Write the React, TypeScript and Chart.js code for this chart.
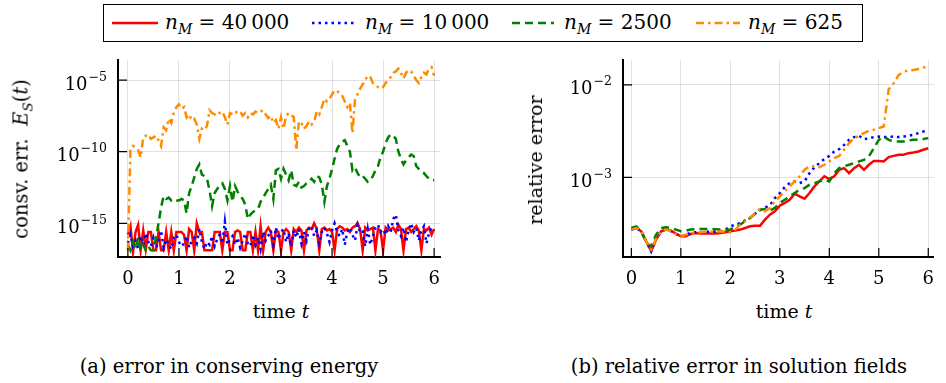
import React, { useEffect, useRef } from 'react';
import { Chart, registerables } from 'chart.js';
Chart.register(...registerables);

const FONT = "'DejaVu Serif', serif";
const GRID = 'rgba(0,0,0,0.12)';

// ---------- data ----------
const tLeft = [
  0, 0.05, 0.1, 0.15, 0.2, 0.25, 0.3, 0.35, 0.4, 0.45,
  0.5, 0.55, 0.6, 0.65, 0.7, 0.75, 0.8, 0.85, 0.9, 0.95,
  1, 1.05, 1.1, 1.15, 1.2, 1.25, 1.3, 1.35, 1.4, 1.45,
  1.5, 1.55, 1.6, 1.65, 1.7, 1.75, 1.8, 1.85, 1.9, 1.95,
  2, 2.05, 2.1, 2.15, 2.2, 2.25, 2.3, 2.35, 2.4, 2.45,
  2.5, 2.55, 2.6, 2.65, 2.7, 2.75, 2.8, 2.85, 2.9, 2.95,
  3, 3.05, 3.1, 3.15, 3.2, 3.25, 3.3, 3.35, 3.4, 3.45,
  3.5, 3.55, 3.6, 3.65, 3.7, 3.75, 3.8, 3.85, 3.9, 3.95,
  4, 4.05, 4.1, 4.15, 4.2, 4.25, 4.3, 4.35, 4.4, 4.45,
  4.5, 4.55, 4.6, 4.65, 4.7, 4.75, 4.8, 4.85, 4.9, 4.95,
  5, 5.05, 5.1, 5.15, 5.2, 5.25, 5.3, 5.35, 5.4, 5.45,
  5.5, 5.55, 5.6, 5.65, 5.7, 5.75, 5.8, 5.85, 5.9, 5.95,
  6,
];

const energyM40000 = [
  1.6e-16, 6.3e-16, 1.0e-17, 2.5e-16, 7.9e-16, 1.3e-17, 3.2e-16, 1.6e-17, 2.5e-16, 2.5e-16,
  1.3e-17, 1.3e-17, 2.5e-16, 1.3e-17, 1.3e-17, 2.5e-16, 1.3e-17, 2.5e-16, 1.3e-17, 2.5e-16,
  2.5e-16, 2.5e-16, 1.6e-16, 1.3e-17, 4.0e-16, 2.5e-16, 1.3e-17, 1.0e-15, 2.5e-16, 2.5e-16,
  1.3e-17, 1.3e-17, 1.3e-17, 1.3e-17, 2.5e-16, 2.5e-16, 2.5e-16, 1.3e-17, 2.5e-16, 2.5e-16,
  1.3e-17, 1.3e-17, 2.5e-16, 3.2e-16, 2.5e-16, 1.3e-17, 1.3e-17, 2.5e-16, 2.5e-16, 1.3e-17,
  2.5e-16, 1.3e-17, 6.3e-16, 1.3e-17, 2.5e-16, 5.0e-16, 2.5e-16, 1.3e-17, 3.2e-16, 2.5e-16,
  1.3e-17, 2.5e-16, 4.0e-16, 2.5e-16, 1.3e-17, 4.0e-16, 2.5e-16, 5.0e-16, 3.2e-16, 1.3e-17,
  3.2e-16, 5.0e-16, 4.0e-16, 1.0e-15, 4.0e-16, 1.3e-17, 4.0e-16, 5.0e-16, 3.2e-16, 4.0e-16,
  2.5e-16, 1.3e-17, 4.0e-16, 6.3e-16, 5.0e-16, 3.2e-16, 4.0e-16, 2.5e-16, 5.0e-16, 6.3e-16,
  1.0e-15, 4.0e-16, 1.3e-17, 5.0e-16, 3.2e-16, 4.0e-16, 5.0e-16, 1.3e-17, 4.0e-16, 3.2e-16,
  1.3e-17, 5.0e-16, 3.2e-16, 4.0e-16, 5.0e-16, 2.5e-16, 7.9e-16, 4.0e-16, 1.3e-17, 4.0e-16,
  5.0e-16, 2.5e-16, 4.0e-16, 6.3e-16, 3.2e-16, 1.3e-17, 4.0e-16, 3.2e-16, 5.0e-16, 1.6e-16,
  4.0e-16,
];

const energyM10000 = [
  4.0e-17, 1.6e-16, 2.5e-17, 6.3e-17, 1.6e-17, 1.3e-16, 3.2e-17, 2.0e-16, 5.0e-17, 2.5e-17,
  1.0e-16, 2.0e-17, 5.0e-17, 3.2e-16, 2.0e-17, 7.9e-17, 3.2e-17, 1.6e-17, 1.0e-16, 1.6e-16,
  5.0e-17, 2.5e-17, 4.0e-17, 1.3e-16, 2.0e-17, 6.3e-17, 1.0e-16, 4.0e-17, 4.0e-16, 5.0e-17,
  1.6e-17, 5.0e-17, 3.2e-17, 1.3e-16, 2.5e-17, 7.9e-17, 1.6e-16, 4.0e-17, 1.3e-15, 3.2e-17,
  7.9e-17, 1.3e-16, 3.2e-17, 1.0e-16, 2.0e-17, 6.3e-17, 2.0e-16, 4.0e-17, 2.5e-17, 1.6e-16,
  3.2e-17, 1.0e-16, 1.6e-17, 2.5e-16, 6.3e-17, 1.3e-16, 3.2e-16, 3.2e-17, 5.0e-16, 7.9e-17,
  2.5e-16, 4.0e-16, 5.0e-17, 2.0e-16, 2.5e-17, 3.2e-16, 1.0e-16, 4.0e-16, 4.0e-17, 2.5e-16,
  6.3e-17, 5.0e-16, 6.3e-16, 1.3e-16, 3.2e-16, 4.0e-17, 2.5e-16, 5.0e-16, 2.0e-16, 5.0e-17,
  3.2e-16, 1.0e-15, 2.5e-16, 1.3e-16, 4.0e-16, 3.2e-17, 2.5e-16, 5.0e-16, 1.6e-16, 6.3e-17,
  7.9e-16, 2.5e-16, 3.2e-16, 2.5e-17, 4.0e-16, 3.2e-17, 1.3e-16, 5.0e-16, 7.9e-16, 2.5e-16,
  4.0e-16, 1.6e-16, 6.3e-16, 2.5e-16, 2.0e-15, 4.0e-15, 3.2e-16, 1.3e-16, 5.0e-16, 5.0e-17,
  3.2e-16, 1.0e-15, 2.5e-16, 5.0e-16, 6.3e-17, 3.2e-16, 6.3e-16, 4.0e-17, 2.0e-16, 5.0e-16,
  3.2e-16,
];

const energyM2500 = [
  3.2e-17, 1.3e-17, 5.0e-17, 1.6e-17, 1.0e-16, 1.3e-17, 3.2e-17, 1.3e-17, 2.5e-17, 1.3e-17,
  1.3e-17, 1.0e-16, 1.0e-15, 1.3e-14, 7.9e-14, 5.0e-14, 6.3e-14, 4.0e-14, 5.0e-14, 4.0e-14,
  4.0e-14, 5.0e-14, 4.0e-14, 5.0e-15, 1.3e-13, 4.0e-13, 1.6e-12, 6.3e-12, 1.3e-11, 2.5e-12,
  2.0e-12, 1.3e-12, 2.0e-13, 1.6e-14, 1.3e-13, 2.5e-13, 5.0e-13, 6.3e-13, 2.5e-13, 4.0e-14,
  4.0e-13, 3.2e-14, 4.0e-13, 1.6e-13, 7.9e-14, 5.0e-14, 2.0e-14, 2.0e-15, 4.0e-15, 6.3e-15,
  7.9e-15, 1.0e-14, 3.2e-14, 6.3e-14, 1.3e-13, 2.5e-13, 5.0e-13, 5.0e-14, 5.0e-12, 6.3e-12,
  1.3e-12, 6.3e-12, 2.5e-12, 1.0e-12, 5.0e-12, 5.0e-13, 4.0e-13, 7.9e-13, 3.2e-13, 4.0e-13,
  6.3e-13, 7.9e-13, 1.3e-12, 7.9e-13, 2.0e-12, 1.6e-12, 5.0e-13, 3.2e-14, 4.0e-13, 1.3e-12,
  6.3e-12, 3.2e-11, 1.6e-10, 3.2e-10, 5.0e-10, 6.3e-10, 2.5e-10, 1.0e-10, 5.0e-12, 7.9e-12,
  3.2e-12, 1.6e-12, 2.0e-12, 1.3e-12, 7.9e-13, 1.0e-12, 2.0e-12, 5.0e-12, 1.0e-11, 4.0e-11,
  1.0e-10, 4.0e-10, 1.0e-9, 1.6e-9, 1.3e-9, 7.9e-10, 1.0e-10, 3.2e-11, 1.3e-11, 2.5e-11,
  4.0e-11, 6.3e-11, 5.0e-11, 1.0e-11, 6.3e-12, 4.0e-12, 3.2e-12, 2.0e-12, 1.3e-12, 1.0e-12,
  1.0e-12,
];

const energyM625 = [
  1.3e-17, 1.3e-10, 2.5e-10, 2.0e-10, 1.3e-10, 4.0e-11, 1.0e-9, 1.3e-9, 1.6e-9, 7.9e-10,
  1.0e-9, 1.3e-9, 6.3e-10, 2.5e-10, 5.0e-9, 3.2e-9, 2.0e-8, 1.0e-8, 5.0e-8, 1.3e-7,
  2.0e-7, 1.0e-7, 1.3e-7, 2.5e-8, 4.0e-8, 1.6e-8, 2.0e-8, 7.9e-9, 7.9e-10, 4.0e-9,
  3.2e-9, 6.3e-9, 7.9e-8, 5.0e-8, 4.0e-8, 6.3e-8, 5.0e-8, 6.3e-8, 2.5e-8, 7.9e-9,
  5.0e-8, 4.0e-8, 6.3e-8, 5.0e-8, 6.3e-8, 3.2e-8, 5.0e-8, 2.5e-8, 5.0e-8, 4.0e-8,
  6.3e-8, 5.0e-8, 6.3e-8, 7.9e-8, 4.0e-8, 2.2e-8, 3.2e-8, 1.0e-8, 1.6e-8, 4.0e-9,
  2.5e-8, 4.0e-9, 3.2e-8, 5.0e-8, 4.0e-8, 2.5e-8, 1.3e-10, 1.3e-8, 1.0e-8, 4.0e-9,
  6.3e-9, 1.3e-8, 7.9e-9, 1.3e-8, 6.3e-8, 4.0e-8, 1.3e-7, 5.0e-7, 3.2e-7, 5.0e-7,
  1.0e-6, 2.0e-6, 1.6e-6, 1.3e-6, 7.9e-7, 3.2e-7, 1.3e-7, 2.5e-7, 2.0e-9, 4.0e-7,
  1.0e-6, 2.5e-6, 5.0e-6, 1.0e-5, 2.0e-5, 1.6e-5, 6.3e-6, 5.0e-6, 3.2e-6, 2.5e-6,
  3.2e-6, 6.3e-6, 1.0e-5, 1.6e-5, 3.2e-5, 4.0e-5, 6.3e-5, 3.2e-5, 1.3e-5, 3.2e-5,
  5.0e-5, 4.0e-5, 2.0e-5, 1.0e-5, 6.3e-6, 1.6e-5, 3.2e-5, 2.5e-5, 6.3e-5, 7.9e-5,
  2.0e-5,
];

const tRight = [
  0, 0.1, 0.2, 0.3, 0.4, 0.5, 0.6, 0.7, 0.8, 0.9,
  1, 1.1, 1.2, 1.3, 1.4, 1.5, 1.6, 1.7, 1.8, 1.9,
  2, 2.1, 2.2, 2.3, 2.4, 2.5, 2.6, 2.7, 2.8, 2.9,
  3, 3.1, 3.2, 3.3, 3.4, 3.5, 3.6, 3.7, 3.8, 3.9,
  4, 4.1, 4.2, 4.3, 4.4, 4.5, 4.6, 4.7, 4.8, 4.9,
  5, 5.1, 5.2, 5.3, 5.4, 5.5, 5.6, 5.7, 5.8, 5.9,
  6,
];

const relM40000 = [
  2.73e-4, 2.84e-4, 2.62e-4, 2.04e-4, 1.59e-4, 2.13e-4, 2.62e-4, 2.73e-4, 2.66e-4, 2.47e-4,
  2.31e-4, 2.31e-4, 2.45e-4, 2.51e-4, 2.47e-4, 2.47e-4, 2.47e-4, 2.47e-4, 2.51e-4, 2.55e-4,
  2.62e-4, 2.66e-4, 2.73e-4, 2.84e-4, 2.96e-4, 3.01e-4, 3.01e-4, 3.50e-4, 3.96e-4, 4.30e-4,
  4.95e-4, 5.30e-4, 5.74e-4, 6.67e-4, 6.24e-4, 5.89e-4, 6.78e-4, 8.00e-4, 9.06e-4, 1.03e-3,
  9.59e-4, 1.03e-3, 1.21e-3, 1.26e-3, 1.11e-3, 1.26e-3, 1.37e-3, 1.21e-3, 1.37e-3, 1.51e-3,
  1.51e-3, 1.49e-3, 1.66e-3, 1.71e-3, 1.76e-3, 1.76e-3, 1.83e-3, 1.86e-3, 1.91e-3, 1.99e-3,
  2.07e-3,
];

const relM10000 = [
  2.73e-4, 2.84e-4, 2.62e-4, 2.04e-4, 1.59e-4, 2.17e-4, 2.62e-4, 2.73e-4, 2.62e-4, 2.45e-4,
  2.31e-4, 2.41e-4, 2.51e-4, 2.55e-4, 2.55e-4, 2.58e-4, 2.58e-4, 2.60e-4, 2.62e-4, 2.73e-4,
  2.96e-4, 3.09e-4, 3.22e-4, 3.44e-4, 3.65e-4, 4.06e-4, 4.42e-4, 4.72e-4, 5.00e-4, 5.99e-4,
  6.78e-4, 7.87e-4, 8.69e-4, 9.06e-4, 8.69e-4, 9.06e-4, 1.11e-3, 1.29e-3, 1.43e-3, 1.58e-3,
  1.71e-3, 1.91e-3, 2.02e-3, 2.25e-3, 2.55e-3, 2.73e-3, 2.82e-3, 2.60e-3, 2.64e-3, 2.73e-3,
  2.77e-3, 2.73e-3, 2.73e-3, 2.77e-3, 2.73e-3, 2.77e-3, 2.82e-3, 2.89e-3, 3.01e-3, 3.14e-3,
  3.22e-3,
];

const relM2500 = [
  2.84e-4, 2.96e-4, 2.62e-4, 1.96e-4, 1.80e-4, 2.41e-4, 2.84e-4, 2.89e-4, 2.84e-4, 2.73e-4,
  2.62e-4, 2.66e-4, 2.73e-4, 2.77e-4, 2.77e-4, 2.77e-4, 2.77e-4, 2.75e-4, 2.73e-4, 2.70e-4,
  2.73e-4, 2.92e-4, 3.09e-4, 3.36e-4, 3.65e-4, 4.06e-4, 4.49e-4, 4.56e-4, 4.37e-4, 4.68e-4,
  5.30e-4, 5.74e-4, 6.24e-4, 6.78e-4, 7.36e-4, 7.67e-4, 8.34e-4, 8.69e-4, 9.06e-4, 9.44e-4,
  9.06e-4, 1.11e-3, 1.26e-3, 1.32e-3, 1.37e-3, 1.43e-3, 1.49e-3, 1.55e-3, 1.69e-3, 2.07e-3,
  2.55e-3, 2.77e-3, 2.55e-3, 2.45e-3, 2.45e-3, 2.45e-3, 2.51e-3, 2.55e-3, 2.55e-3, 2.60e-3,
  2.66e-3,
];

const relM625 = [
  2.73e-4, 2.84e-4, 2.62e-4, 2.04e-4, 1.66e-4, 2.16e-4, 2.62e-4, 2.73e-4, 2.62e-4, 2.45e-4,
  2.31e-4, 2.41e-4, 2.47e-4, 2.51e-4, 2.55e-4, 2.58e-4, 2.58e-4, 2.60e-4, 2.62e-4, 2.60e-4,
  2.55e-4, 2.73e-4, 3.09e-4, 3.36e-4, 3.65e-4, 4.13e-4, 4.56e-4, 4.30e-4, 4.68e-4, 5.51e-4,
  6.24e-4, 7.06e-4, 8.00e-4, 9.06e-4, 1.03e-3, 1.21e-3, 1.32e-3, 1.32e-3, 1.29e-3, 1.37e-3,
  1.49e-3, 1.62e-3, 1.71e-3, 1.99e-3, 2.35e-3, 2.66e-3, 2.82e-3, 3.01e-3, 3.19e-3, 3.27e-3,
  3.41e-3, 3.55e-3, 8.97e-3, 1.04e-2, 1.28e-2, 1.39e-2, 1.43e-2, 1.45e-2, 1.49e-2, 1.54e-2,
  1.58e-2,
];

const xTickVals = [0, 1, 2, 3, 4, 5, 6];
const leftYTicks = [1e-15, 1e-10, 1e-5];
const leftYExps = ['\u221215', '\u221210', '\u22125'];
const rightYTicks = [1e-3, 1e-2];
const rightYExps = ['\u22123', '\u22122'];

const seriesLabels = ['40\u2009000', '10\u2009000', '2500', '625'];
const seriesColors = ['#ff0000', '#0000ff', '#008000', '#ff8c00'];
const seriesDash = [[], [2.5, 4], [8, 5], [8, 4, 2.5, 4]];

// ---------- plugin: inner ticks + 10^k labels ----------
const axisDecor = {
  id: 'axisDecor',
  afterDatasetsDraw(chart: any, _args: any, opts: any) {
    const { ctx, chartArea: a, scales } = chart;
    const xs = scales.x;
    const ys = scales.y;
    ctx.save();
    ctx.strokeStyle = '#000';
    ctx.lineWidth = 1.2;
    ctx.beginPath();
    xs.ticks.forEach((t: any) => {
      const p = xs.getPixelForValue(t.value);
      ctx.moveTo(p, a.bottom);
      ctx.lineTo(p, a.bottom - 9);
    });
    ys.ticks.forEach((t: any) => {
      const p = ys.getPixelForValue(t.value);
      ctx.moveTo(a.left, p);
      ctx.lineTo(a.left + 9, p);
    });
    ctx.stroke();
    ctx.fillStyle = '#000';
    ctx.textAlign = 'left';
    ctx.textBaseline = 'alphabetic';
    const exps: string[] = opts.exps || [];
    ys.ticks.forEach((t: any, i: number) => {
      const py = ys.getPixelForValue(t.value);
      ctx.font = `18px ${FONT}`;
      const wb = ctx.measureText('10').width;
      ctx.font = `12.5px ${FONT}`;
      const we = ctx.measureText(exps[i] || '').width;
      const right = a.left - opts.gap;
      ctx.font = `18px ${FONT}`;
      ctx.fillText('10', right - we - wb - 1, py + 9.5);
      ctx.font = `12.5px ${FONT}`;
      ctx.fillText(exps[i] || '', right - we, py + 0.5);
    });
    ctx.restore();
  },
};

function makeConfig(
  t: number[],
  values: number[][],
  xMin: number,
  xMax: number,
  yMin: number,
  yMax: number,
  yTicks: number[],
  yExps: string[],
  yWidth: number,
  padRight: number
): any {
  return {
    type: 'line',
    data: {
      datasets: values.map((vals, k) => ({
        label: seriesLabels[k],
        data: t.map((x, i) => ({ x, y: vals[i] })),
        borderColor: seriesColors[k],
        borderWidth: 2.5,
        borderDash: seriesDash[k],
        pointRadius: 0,
        tension: 0,
        fill: false,
        order: 4 - k,
      })),
    },
    options: {
      responsive: false,
      animation: false,
      devicePixelRatio: 1,
      layout: { padding: { top: 10, right: padRight, left: 0, bottom: 0 }, autoPadding: false },
      plugins: {
        legend: { display: false },
        tooltip: { enabled: false },
        axisDecor: { exps: yExps, gap: 11 },
      },
      scales: {
        x: {
          type: 'linear',
          min: xMin,
          max: xMax,
          afterBuildTicks: (s: any) => {
            s.ticks = xTickVals.map((v) => ({ value: v }));
          },
          afterFit: (s: any) => {
            s.height = 33;
          },
          grid: { color: GRID, lineWidth: 1, drawTicks: false },
          border: { display: true, color: '#000', width: 2 },
          ticks: {
            font: { family: FONT, size: 18 },
            color: '#000',
            padding: 12,
            maxRotation: 0,
            autoSkip: false,
            callback: (v: any) => String(v),
          },
        },
        y: {
          type: 'logarithmic',
          min: yMin,
          max: yMax,
          afterBuildTicks: (s: any) => {
            s.ticks = yTicks.map((v) => ({ value: v }));
          },
          afterFit: (s: any) => {
            s.width = yWidth;
          },
          grid: { color: GRID, lineWidth: 1, drawTicks: false },
          border: { display: true, color: '#000', width: 2 },
          ticks: { display: false },
        },
      },
    },
    plugins: [axisDecor],
  };
}

function ChartCanvas(props: { left: number; top: number; width: number; height: number; config: () => any }) {
  const ref = useRef<HTMLCanvasElement>(null);
  useEffect(() => {
    const chart = new Chart(ref.current as HTMLCanvasElement, props.config());
    return () => chart.destroy();
  }, []);
  return (
    <canvas
      ref={ref}
      width={props.width}
      height={props.height}
      style={{ position: 'absolute', left: props.left, top: props.top, width: props.width, height: props.height }}
    />
  );
}

const sub: React.CSSProperties = { fontSize: '0.7em', fontStyle: 'italic', position: 'relative', top: '0.35em' };

function LegendItem(props: { k: number; lineX: number; lineW: number; textX: number }) {
  const { k, lineX, lineW, textX } = props;
  return (
    <>
      <svg style={{ position: 'absolute', left: lineX, top: 13, overflow: 'visible' }} width={lineW} height={20}>
        <line
          x1={0}
          y1={10}
          x2={lineW}
          y2={10}
          stroke={seriesColors[k]}
          strokeWidth={2.5}
          strokeDasharray={seriesDash[k].length ? seriesDash[k].join(' ') : undefined}
        />
      </svg>
      <div style={{ position: 'absolute', left: textX, top: 9, fontSize: 20, lineHeight: '26px', whiteSpace: 'nowrap' }}>
        <i>n</i>
        <span style={sub}>M</span> = {seriesLabels[k]}
      </div>
    </>
  );
}

export default function App() {
  return (
    <div
      style={{
        position: 'absolute',
        left: 0,
        top: 0,
        width: 946,
        height: 383,
        background: '#fff',
        fontFamily: FONT,
        color: '#000',
        overflow: 'hidden',
      }}
    >
      {/* legend */}
      <div
        style={{
          position: 'absolute',
          left: 103,
          top: 4,
          width: 760,
          height: 38,
          border: '1.5px solid #000',
          boxSizing: 'border-box',
        }}
      />
      <LegendItem k={0} lineX={112} lineW={46} textX={165} />
      <LegendItem k={1} lineX={312} lineW={44} textX={365} />
      <LegendItem k={2} lineX={512} lineW={42} textX={564} />
      <LegendItem k={3} lineX={696} lineW={44} textX={748} />

      {/* left chart */}
      <ChartCanvas
        left={0}
        top={50}
        width={452}
        height={240}
        config={() =>
          makeConfig(
            tLeft,
            [energyM40000, energyM10000, energyM2500, energyM625],
            -0.194,
            6.117,
            4.47e-18,
            2.51e-4,
            leftYTicks,
            leftYExps,
            118,
            9
          )
        }
      />
      {/* right chart */}
      <ChartCanvas
        left={500}
        top={50}
        width={446}
        height={240}
        config={() =>
          makeConfig(
            tRight,
            [relM40000, relM10000, relM2500, relM625],
            -0.169,
            6.115,
            1.38e-4,
            1.86e-2,
            rightYTicks,
            rightYExps,
            123,
            0
          )
        }
      />

      {/* y titles */}
      <div
        style={{
          position: 'absolute',
          left: 21,
          top: 159,
          transform: 'translate(-50%, -50%) rotate(-90deg)',
          fontSize: 19.5,
          whiteSpace: 'nowrap',
        }}
      >
        consv. err.&nbsp; <i>E</i>
        <span style={sub}>S</span>(<i>t</i>)
      </div>
      <div
        style={{
          position: 'absolute',
          left: 535,
          top: 160,
          transform: 'translate(-50%, -50%) rotate(-90deg)',
          fontSize: 19,
          whiteSpace: 'nowrap',
        }}
      >
        relative error
      </div>

      {/* x titles */}
      <div style={{ position: 'absolute', left: 281, top: 311, transform: 'translate(-50%, -50%)', fontSize: 19, whiteSpace: 'nowrap' }}>
        time <i>t</i>
      </div>
      <div style={{ position: 'absolute', left: 784, top: 311, transform: 'translate(-50%, -50%)', fontSize: 19, whiteSpace: 'nowrap' }}>
        time <i>t</i>
      </div>

      {/* captions */}
      <div style={{ position: 'absolute', left: 229, top: 366, transform: 'translate(-50%, -50%)', fontSize: 19.5, whiteSpace: 'nowrap' }}>
        (a) error in conserving energy
      </div>
      <div style={{ position: 'absolute', left: 739, top: 366, transform: 'translate(-50%, -50%)', fontSize: 19.5, whiteSpace: 'nowrap' }}>
        (b) relative error in solution fields
      </div>
    </div>
  );
}
